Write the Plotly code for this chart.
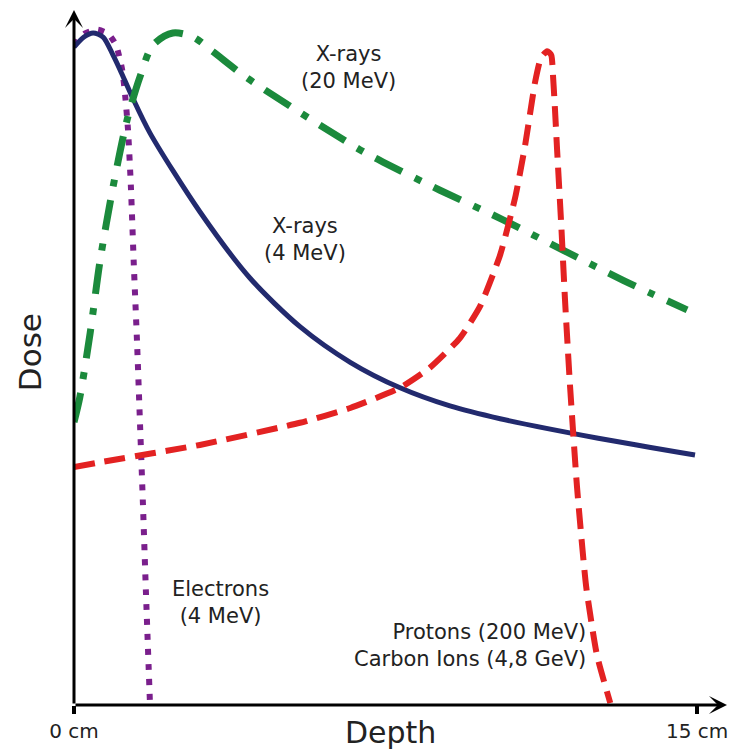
import plotly.graph_objects as go

# ---- data (depth in cm, dose in relative units) ----
xray4_depth = [0.0, 0.24, 0.46, 0.70, 0.94, 1.11, 1.40, 1.83, 3.03, 4.24, 5.44, 6.65, 7.85, 9.05, 10.26, 12.62, 14.95]
xray4_dose  = [97.9, 99.4, 100.0, 99.4, 96.7, 94.5, 90.5, 85.1, 73.4, 63.5, 56.3, 51.0, 47.2, 44.5, 42.6, 39.7, 37.2]

electron_depth = [0.0, 0.26, 0.55, 0.82, 1.01, 1.16, 1.23, 1.30, 1.37, 1.44, 1.52, 1.59, 1.66, 1.73, 1.83]
electron_dose  = [98.2, 99.9, 100.5, 99.9, 98.2, 94.5, 90.8, 85.6, 77.1, 65.5, 53.6, 41.7, 29.8, 17.1, 0.0]

xray20_depth = [0.0, 0.14, 0.39, 0.63, 0.94, 1.28, 1.59, 1.90, 2.38, 2.87, 3.35, 4.17, 6.89, 7.44, 8.81, 10.33, 11.77, 13.22, 14.76]
xray20_dose  = [42.1, 45.8, 55.4, 66.2, 77.1, 87.1, 93.5, 98.2, 100.0, 99.4, 97.2, 93.3, 82.6, 80.8, 76.6, 72.2, 67.7, 63.2, 58.8]

proton_depth = [0.0, 0.70, 3.03, 5.44, 6.65, 7.85, 8.57, 9.29, 9.78, 10.26, 10.62, 10.86, 11.10, 11.24, 11.39, 11.49, 11.53, 11.58, 11.63, 11.73, 11.82, 11.94, 12.11, 12.33, 12.59, 12.91]
proton_dose  = [35.4, 36.2, 38.7, 42.0, 44.2, 47.2, 50.2, 54.6, 59.4, 67.0, 75.5, 83.3, 92.7, 96.3, 97.3, 96.7, 93.8, 88.5, 82.6, 71.4, 60.3, 47.6, 32.4, 17.6, 7.4, 0.3]

tick_vals = [0, 15]
tick_text = ["0 cm", "15 cm"]

X_MAX = 15.72
Y_MAX = 103.42
FONT = "DejaVu Sans"
TXT = "#222222"

fig = go.Figure()

fig.add_trace(go.Scatter(x=electron_depth, y=electron_dose, mode="lines",
                         line=dict(color="#7a1f8c", width=6, dash="6px,9px", shape="spline", smoothing=0.6),
                         hoverinfo="skip"))
fig.add_trace(go.Scatter(x=xray4_depth, y=xray4_dose, mode="lines",
                         line=dict(color="#222a6e", width=5, shape="spline", smoothing=0.8),
                         hoverinfo="skip"))
fig.add_trace(go.Scatter(x=xray20_depth, y=xray20_dose, mode="lines",
                         line=dict(color="#1b8a3c", width=7, dash="30px,14px,7px,14px", shape="spline", smoothing=0.8),
                         hoverinfo="skip"))
fig.add_trace(go.Scatter(x=proton_depth, y=proton_dose, mode="lines",
                         line=dict(color="#e32222", width=6, dash="21px,10px", shape="spline", smoothing=0.5),
                         hoverinfo="skip"))

# axis arrows
fig.add_annotation(x=0, y=Y_MAX, ax=0, ay=0, xref="x", yref="y", axref="x", ayref="y",
                   text="", showarrow=True, arrowhead=3, arrowsize=1, arrowwidth=3, arrowcolor="black")
fig.add_annotation(x=X_MAX, y=0, ax=0, ay=0, xref="x", yref="y", axref="x", ayref="y",
                   text="", showarrow=True, arrowhead=3, arrowsize=1, arrowwidth=3, arrowcolor="black")

labels = [
    (6.60, 94.9, "X-rays<br>(20 MeV)", "center"),
    (5.56, 69.2, "X-rays<br>(4 MeV)", "center"),
    (3.52, 15.3, "Electrons<br>(4 MeV)", "center"),
    (12.38, 8.8, "Protons (200 MeV)<br>Carbon Ions (4,8 GeV)", "right"),
]
for x, y, t, al in labels:
    fig.add_annotation(x=x, y=y, xref="x", yref="y", text=t, showarrow=False,
                       align=al, xanchor=al, yanchor="middle",
                       font=dict(family=FONT, size=21, color=TXT))

fig.add_annotation(x=7.61, y=0, xref="x", yref="paper", yshift=-27, text="Depth", showarrow=False,
                   xanchor="center", yanchor="middle", font=dict(family=FONT, size=30, color=TXT))
fig.add_annotation(x=0, y=52.5, xref="paper", yref="y", xshift=-44, text="Dose", showarrow=False,
                   textangle=-90, xanchor="center", yanchor="middle", font=dict(family=FONT, size=31, color=TXT))

fig.update_layout(
    width=730, height=750,
    margin=dict(l=74, r=3, t=10, b=45),
    paper_bgcolor="white", plot_bgcolor="white",
    showlegend=False,
    xaxis=dict(range=[0, X_MAX], showgrid=False, zeroline=False, showline=False,
               tickvals=tick_vals, ticktext=tick_text, ticks="outside", ticklen=8, tickwidth=4,
               tickcolor="black", tickfont=dict(family=FONT, size=20, color=TXT), fixedrange=True),
    yaxis=dict(range=[0, Y_MAX], showgrid=False, zeroline=False, showline=False,
               showticklabels=False, ticks="", fixedrange=True),
)

fig.write_html("out.html")
